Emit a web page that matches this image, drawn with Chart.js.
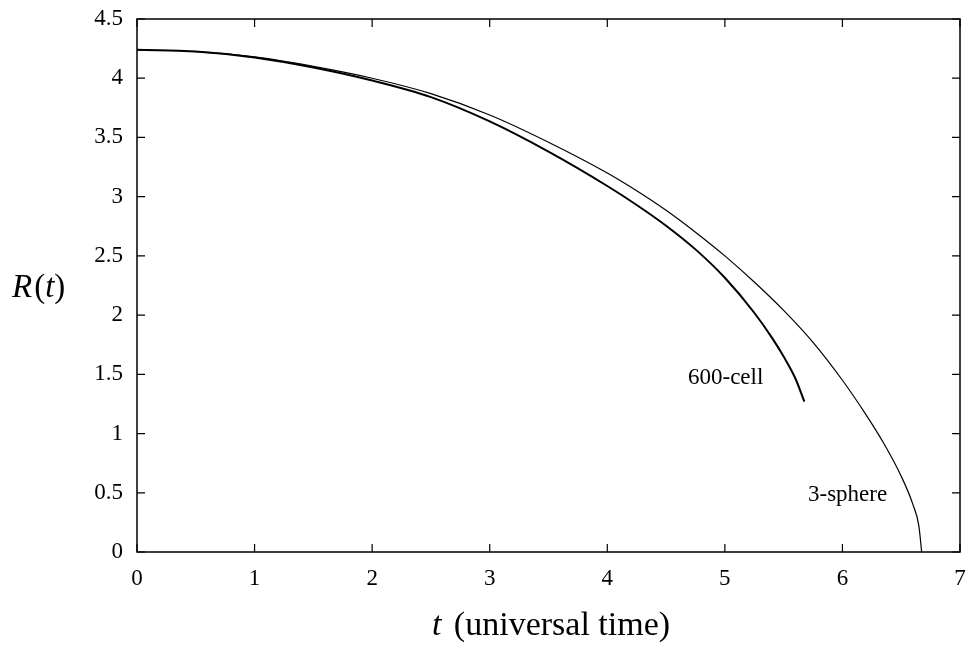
<!DOCTYPE html>
<html>
<head>
<meta charset="utf-8">
<script src="https://cdn.jsdelivr.net/npm/chart.js@4.4.1/dist/chart.umd.min.js"></script>
<style>
  html, body { margin: 0; padding: 0; background: #fff; }
  #wrap { width: 969px; height: 646px; }
</style>
</head>
<body>
<div id="wrap"><canvas id="grafico"></canvas></div>
<script>
// valores
const tEsfera = [0, 0.5, 1.0, 1.5, 2.0, 2.5, 3.0, 3.5, 4.0, 4.25, 4.5, 4.75, 5.0, 5.25, 5.5, 5.75, 6.0, 6.2, 6.35, 6.5, 6.6, 6.65, 6.674];
const rEsfera = [4.24, 4.225, 4.18, 4.10, 4.00, 3.87, 3.69, 3.46, 3.20, 3.05, 2.885, 2.70, 2.50, 2.28, 2.04, 1.77, 1.45, 1.16, 0.92, 0.64, 0.40, 0.22, 0];

const tCelula = [0, 0.5, 1.0, 1.5, 2.0, 2.5, 3.0, 3.5, 4.0, 4.25, 4.5, 4.75, 5.0, 5.25, 5.4, 5.5, 5.6, 5.676];
const rCelula = [4.24, 4.225, 4.175, 4.09, 3.98, 3.84, 3.635, 3.38, 3.09, 2.93, 2.755, 2.555, 2.315, 2.02, 1.81, 1.65, 1.465, 1.27];

const xTicks = [0, 1, 2, 3, 4, 5, 6, 7];
const yTicks = [0, 0.5, 1, 1.5, 2, 2.5, 3, 3.5, 4, 4.5];

const FONTE = "'Liberation Serif', 'Times New Roman', serif";

function pontos(xs, ys) {
    return xs.map((x, i) => ({ x: x, y: ys[i] }));
}

// tira o espaço extra que as escalas pedem para os rótulos
function semPadding(s) {
    s.paddingTop = 0; s.paddingBottom = 0;
    s.paddingLeft = 0; s.paddingRight = 0;
}

// moldura, ticks para dentro e textos
const molduraPlugin = {
    id: 'moldura',
    afterDraw(chart) {
        const ctx = chart.ctx;
        const a = chart.chartArea;
        const sx = chart.scales.x, sy = chart.scales.y;
        ctx.save();
        ctx.strokeStyle = '#000';
        ctx.lineWidth = 1.5;
        ctx.strokeRect(a.left, a.top, a.right - a.left, a.bottom - a.top);

        const tam = 8;
        ctx.lineWidth = 1.2;
        ctx.beginPath();
        xTicks.forEach(v => {
            const px = sx.getPixelForValue(v);
            ctx.moveTo(px, a.bottom); ctx.lineTo(px, a.bottom - tam);
            ctx.moveTo(px, a.top); ctx.lineTo(px, a.top + tam);
        });
        yTicks.forEach(v => {
            const py = sy.getPixelForValue(v);
            ctx.moveTo(a.left, py); ctx.lineTo(a.left + tam, py);
            ctx.moveTo(a.right, py); ctx.lineTo(a.right - tam, py);
        });
        ctx.stroke();

        ctx.fillStyle = '#000';
        ctx.textBaseline = 'alphabetic';
        ctx.textAlign = 'left';
        ctx.font = '23px ' + FONTE;
        ctx.fillText('600-cell', 688, 384);
        ctx.fillText('3-sphere', 808, 501);

        // R(t)
        let x = 12;
        const partes = [['R', 'italic'], ['(', 'normal'], ['t', 'italic'], [')', 'normal']];
        partes.forEach(p => {
            ctx.font = p[1] + ' 33px ' + FONTE;
            ctx.fillText(p[0], x, 297);
            x += ctx.measureText(p[0]).width + (p[0] === 'R' ? 2 : 0);
        });

        // t (universal time)
        ctx.font = 'italic 34px ' + FONTE;
        const w1 = ctx.measureText('t ').width;
        ctx.font = '34px ' + FONTE;
        const w2 = ctx.measureText('(universal time)').width;
        const x0 = 551 - (w1 + w2 + 4) / 2;
        ctx.font = 'italic 34px ' + FONTE;
        ctx.fillText('t', x0, 635);
        ctx.font = '34px ' + FONTE;
        ctx.fillText('(universal time)', x0 + w1 + 4, 635);
        ctx.restore();
    }
};

new Chart(document.getElementById('grafico').getContext('2d'), {
    type: 'scatter',
    data: {
        datasets: [
            {
                label: '600-cell',
                data: pontos(tCelula, rCelula),
                showLine: true,
                borderColor: '#000',
                borderWidth: 2,
                pointRadius: 0,
                cubicInterpolationMode: 'monotone'
            },
            {
                label: '3-sphere',
                data: pontos(tEsfera, rEsfera),
                showLine: true,
                borderColor: '#000',
                borderWidth: 1.2,
                pointRadius: 0,
                cubicInterpolationMode: 'monotone'
            }
        ]
    },
    options: {
        responsive: true,
        maintainAspectRatio: false,
        animation: false,
        layout: { padding: { left: 0, right: 9, top: 19, bottom: 0 } },
        plugins: { legend: { display: false }, tooltip: { enabled: false } },
        scales: {
            x: {
                type: 'linear', min: 0, max: 7,
                grid: { display: false, drawTicks: false },
                border: { display: false },
                afterFit: s => { s.height = 94; semPadding(s); },
                afterBuildTicks: s => { s.ticks = xTicks.map(v => ({ value: v })); },
                ticks: { color: '#000', padding: 13, font: { family: FONTE, size: 23 },
                         callback: v => String(v) }
            },
            y: {
                type: 'linear', min: 0, max: 4.5,
                grid: { display: false, drawTicks: false },
                border: { display: false },
                afterFit: s => { s.width = 137; semPadding(s); },
                afterBuildTicks: s => { s.ticks = yTicks.map(v => ({ value: v })); },
                ticks: { color: '#000', padding: 14, font: { family: FONTE, size: 23 },
                         callback: v => String(v) }
            }
        }
    },
    plugins: [molduraPlugin]
});
</script>
</body>
</html>
